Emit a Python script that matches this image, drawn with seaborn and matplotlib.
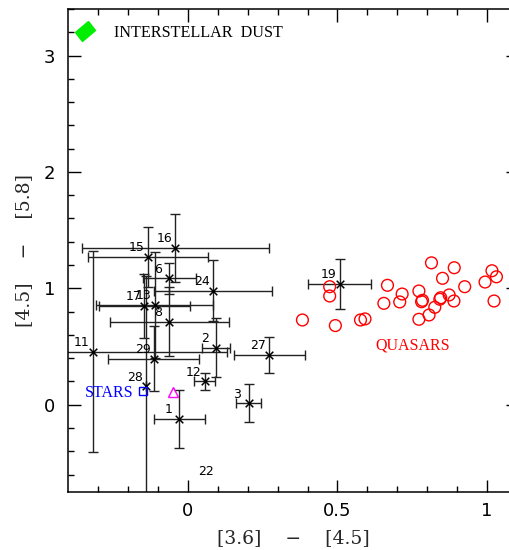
import numpy as np
import pandas as pd
import matplotlib
matplotlib.use("Agg")
import matplotlib.pyplot as plt
from matplotlib.markers import MarkerStyle
from matplotlib.transforms import Affine2D
import seaborn as sns

# ---- data ----
src_ids = ['1', '2', '3', '6', '8', '11', '12', '13', '15', '16', '17', '19', '24', '27', '28', '29']
src_x = [-0.028, 0.095, 0.203, -0.061, -0.061, -0.318, 0.056, -0.111, -0.134, -0.041, -0.145, 0.507, 0.084, 0.273, -0.139, -0.114]
src_y = [-0.123, 0.491, 0.014, 1.086, 0.714, 0.457, 0.200, 0.857, 1.271, 1.348, 0.848, 1.037, 0.979, 0.428, 0.16, 0.397]
src_xerr = [0.086, 0.047, 0.043, 0.087, 0.20, 0.45, 0.035, 0.195, 0.20, 0.312, 0.153, 0.106, 0.196, 0.117, 0.0, 0.153]
src_yerr = [0.25, 0.25, 0.16, 0.134, 0.294, 0.86, 0.074, 0.455, 0.257, 0.29, 0.277, 0.214, 0.264, 0.154, 0.95, 0.277]

label22_xy = (0.0615, -0.572)

quasar_x = [0.383, 0.474, 0.474, 0.493, 0.577, 0.592, 0.667, 0.655, 0.708, 0.716, 0.772, 0.781, 0.784, 0.772,
            0.806, 0.825, 0.842, 0.845, 0.873, 0.889, 0.814, 0.851, 0.890, 0.925, 0.993, 1.016, 1.031, 1.023]
quasar_y = [0.728, 1.014, 0.934, 0.680, 0.728, 0.737, 1.026, 0.871, 0.883, 0.951, 0.977, 0.885, 0.897, 0.734,
            0.771, 0.837, 0.906, 0.919, 0.943, 0.891, 1.219, 1.086, 1.177, 1.014, 1.054, 1.151, 1.099, 0.891]

stars_xy = (-0.151, 0.114)
triangle_xy = (-0.050, 0.109)
dust_xy = (-0.342, 3.21)

xlim = (-0.40, 1.103)
ylim = (-0.75, 3.40)

# ---- figure ----
sns.set_style("ticks")
plt.rcParams['font.family'] = ['DejaVu Sans']

fig = plt.figure(figsize=(5.09, 5.50), dpi=100)
ax = fig.add_axes([68 / 509, 58 / 550, (518 - 68) / 509, (492 - 9) / 550])

src = pd.DataFrame({'id': src_ids, 'x': src_x, 'y': src_y, 'xerr': src_xerr, 'yerr': src_yerr})
qso = pd.DataFrame({'x': quasar_x, 'y': quasar_y})

ax.errorbar(src['x'], src['y'], xerr=src['xerr'], yerr=src['yerr'], fmt='none',
            ecolor='#222222', elinewidth=1.0, capsize=3.6, capthick=1.0, zorder=2)
sns.scatterplot(data=src, x='x', y='y', marker='x', color='black', s=30, linewidth=1.1,
                ax=ax, zorder=3, legend=False)

for _, r in src.iterrows():
    ax.annotate(r['id'], (r['x'], r['y']), xytext=(-8, 6.5), textcoords='offset points',
                ha='center', va='center', fontsize=9, family='DejaVu Sans', color='black', zorder=4)
ax.text(label22_xy[0], label22_xy[1], '22', ha='center', va='center', fontsize=9, color='black')

sns.scatterplot(data=qso, x='x', y='y', marker='o', facecolor='none', edgecolor='#ff0000',
                s=72, linewidth=1.0, ax=ax, zorder=3, legend=False)
ax.text(0.75, 0.506, 'QUASARS', color='#ff0000', ha='center', va='center',
        fontsize=11.5, family='Liberation Serif')

ax.plot([stars_xy[0]], [stars_xy[1]], marker='s', ms=6, mfc='none', mec='#0000ff', mew=1.0, zorder=5)
ax.text(-0.182, 0.10, 'STARS', color='#0000ff', ha='right', va='center',
        fontsize=11.5, family='Liberation Serif')

ax.plot([triangle_xy[0]], [triangle_xy[1]], marker='^', ms=6.5, mfc='none', mec='#ff00ff', mew=1.0, zorder=5)

dust_marker = MarkerStyle('s', transform=Affine2D().scale(1.5, 1.0).rotate_deg(40))
ax.plot([dust_xy[0]], [dust_xy[1]], marker=dust_marker, ms=8, mfc='#00ee00', mec='#00ee00', zorder=5)
ax.text(-0.248, 3.19, 'INTERSTELLAR  DUST', color='black', ha='left', va='center',
        fontsize=11.6, family='Liberation Serif')

ax.set_xlim(*xlim)
ax.set_ylim(*ylim)
ax.set_xticks([0, 0.5, 1])
ax.set_xticklabels(['0', '0.5', '1'])
ax.set_yticks([0, 1, 2, 3])
ax.set_yticklabels(['0', '1', '2', '3'])
ax.set_xticks(np.arange(-0.3, 1.11, 0.1), minor=True)
ax.set_yticks(np.arange(-0.6, 3.41, 0.2), minor=True)
ax.tick_params(which='both', direction='in', top=True, right=True, colors='black', width=1.0)
ax.tick_params(which='major', length=9, labelsize=13)
ax.tick_params(axis='x', which='major', pad=7)
ax.tick_params(axis='y', which='major', pad=9)
ax.tick_params(which='minor', length=4.5)
for s in ax.spines.values():
    s.set_linewidth(1.1)
    s.set_color('black')

ax.set_xlabel('[3.6]    \u2212    [4.5]', fontsize=13.5, family='DejaVu Serif', labelpad=7)
ax.set_ylabel('[4.5]    \u2212    [5.8]', fontsize=13.5, family='DejaVu Serif', labelpad=8)

fig.savefig('out.png', dpi=100)
